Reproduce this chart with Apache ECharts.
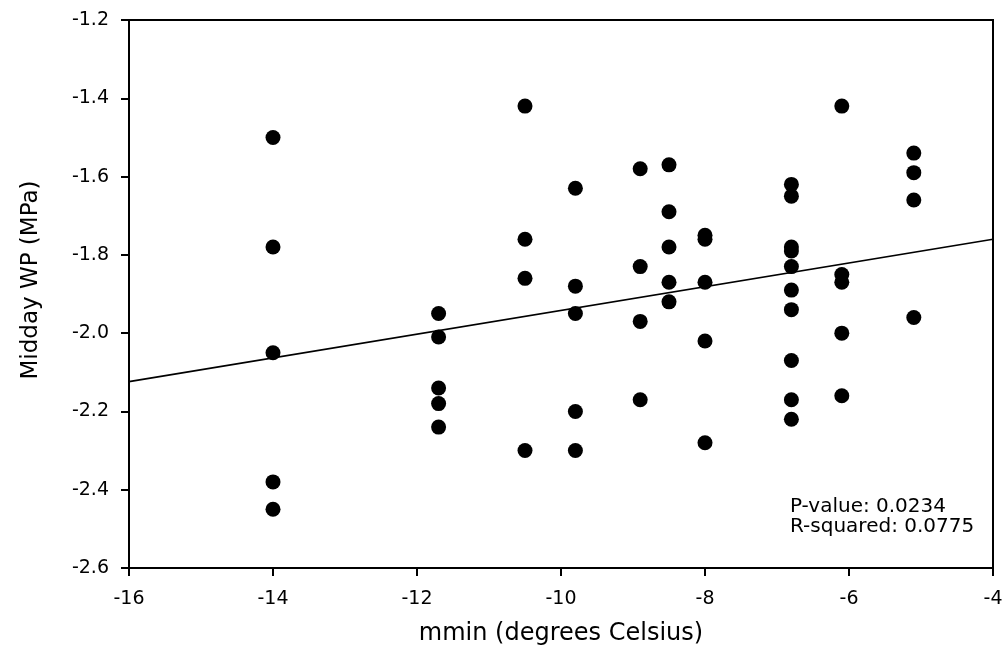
<!DOCTYPE html>
<html>
<head>
<meta charset="utf-8">
<script src="https://cdn.jsdelivr.net/npm/echarts@6/dist/echarts.min.js"></script>
<style>html,body{margin:0;padding:0;background:#fff;}#chart{width:1007px;height:661px;}</style>
</head>
<body>
<div id="chart"></div>
<script>
// Data
const mminValues = [
  -14, -14, -14, -14, -14,
  -11.7, -11.7, -11.7, -11.7, -11.7,
  -10.5, -10.5, -10.5, -10.5,
  -9.8, -9.8, -9.8, -9.8, -9.8,
  -8.9, -8.9, -8.9, -8.9,
  -8.5, -8.5, -8.5, -8.5, -8.5,
  -8.0, -8.0, -8.0, -8.0, -8.0,
  -6.8, -6.8, -6.8, -6.8, -6.8, -6.8, -6.8, -6.8, -6.8, -6.8,
  -6.1, -6.1, -6.1, -6.1, -6.1,
  -5.1, -5.1, -5.1, -5.1
];
const middayWP = [
  -1.50, -1.78, -2.05, -2.38, -2.45,
  -1.95, -2.01, -2.14, -2.18, -2.24,
  -1.42, -1.76, -1.86, -2.30,
  -1.63, -1.88, -1.95, -2.20, -2.30,
  -1.58, -1.83, -1.97, -2.17,
  -1.57, -1.69, -1.78, -1.87, -1.92,
  -1.75, -1.76, -1.87, -2.02, -2.28,
  -1.62, -1.65, -1.78, -1.79, -1.83, -1.89, -1.94, -2.07, -2.17, -2.22,
  -1.42, -1.85, -1.87, -2.00, -2.16,
  -1.54, -1.59, -1.66, -1.96
];
// Regression line as drawn
const fitX = [-16, -4];
const fitSlope = 0.0303;
const fitIntercept = -1.639;
const statsLines = ['P-value: 0.0234', 'R-squared: 0.0775'];
const xTitle = 'mmin (degrees Celsius)';
const yTitle = 'Midday WP (MPa)';

const points = mminValues.map((x, i) => [x, middayWP[i]]);
const fitLine = fitX.map(x => [x, fitIntercept + fitSlope * x]);

const font = 'DejaVu Sans';
const chart = echarts.init(document.getElementById('chart'));
chart.setOption({
  backgroundColor: '#ffffff',
  animation: false,
  grid: {left: 129, right: 14, top: 20, bottom: 93, show: true, borderColor: '#000', borderWidth: 2, backgroundColor: 'transparent'},
  xAxis: {
    type: 'value', min: -16, max: -4, interval: 2,
    name: xTitle, nameLocation: 'middle', nameGap: 54,
    nameTextStyle: {fontFamily: font, fontSize: 24, color: '#000'},
    axisLine: {lineStyle: {color: '#000', width: 2}},
    axisTick: {inside: false, length: 8, lineStyle: {color: '#000', width: 2}},
    axisLabel: {fontFamily: font, fontSize: 19, color: '#000', margin: 22},
    splitLine: {show: false}
  },
  yAxis: {
    type: 'value', min: -2.6, max: -1.2, interval: 0.2,
    name: yTitle, nameLocation: 'middle', nameGap: 86,
    nameTextStyle: {fontFamily: font, fontSize: 23, color: '#000', padding: [0, 0, 0, 28]},
    axisLine: {lineStyle: {color: '#000', width: 2}},
    axisTick: {inside: false, length: 8, lineStyle: {color: '#000', width: 2}},
    axisLabel: {fontFamily: font, fontSize: 19, color: '#000', margin: 20, formatter: v => v.toFixed(1)},
    splitLine: {show: false}
  },
  series: [
    {
      type: 'line', data: fitLine, showSymbol: false, symbol: 'none',
      lineStyle: {color: '#000', width: 1.6}, z: 2, silent: true
    },
    {
      type: 'scatter', data: points, symbol: 'circle', symbolSize: 15,
      itemStyle: {color: '#000', opacity: 1}, z: 3
    }
  ],
  graphic: [
    {
      type: 'text', left: 790, top: 497,
      style: {text: statsLines.join('\n'), fontFamily: font, fontSize: 20, lineHeight: 20, fill: '#000'}
    }
  ]
});
</script>
</body>
</html>
